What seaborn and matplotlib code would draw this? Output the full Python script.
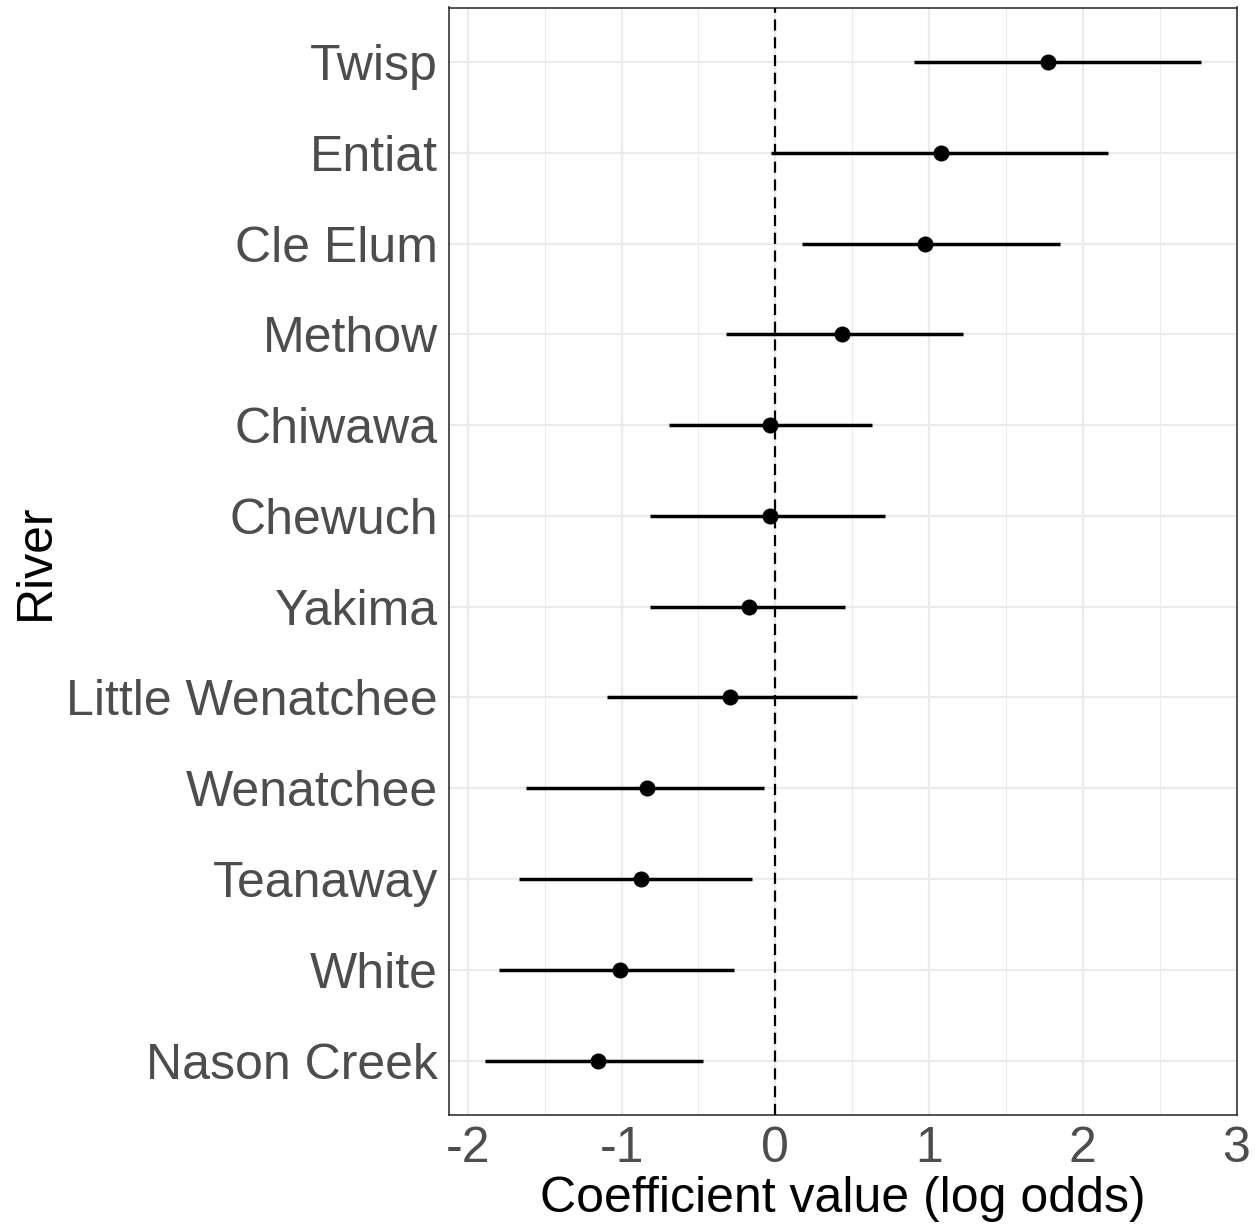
import numpy as np
import pandas as pd
import matplotlib
matplotlib.use("Agg")
import matplotlib.pyplot as plt
from matplotlib.ticker import MultipleLocator
import seaborn as sns

# River-level coefficient estimates with interval bounds (log odds)
rivers = ["Twisp", "Entiat", "Cle Elum", "Methow", "Chiwawa", "Chewuch",
          "Yakima", "Little Wenatchee", "Wenatchee", "Teanaway", "White",
          "Nason Creek"]
estimate = [1.775, 1.08, 0.975, 0.433, -0.037, -0.037,
            -0.17, -0.293, -0.834, -0.875, -1.008, -1.155]
lower = [0.90, -0.027, 0.174, -0.32, -0.695, -0.814,
         -0.814, -1.093, -1.625, -1.669, -1.798, -1.89]
upper = [2.77, 2.166, 1.853, 1.219, 0.63, 0.712,
         0.456, 0.528, -0.075, -0.153, -0.266, -0.47]
x_ticks = [-2, -1, 0, 1, 2, 3]

# Long table: each river contributes its lower bound, estimate and upper bound;
# the median recovers the estimate and the min/max span gives the interval.
df = pd.DataFrame({
    "River": rivers * 3,
    "value": lower + estimate + upper,
})

sns.set_theme(style="white")
plt.rcParams["font.family"] = ["Liberation Sans", "DejaVu Sans"]

fig = plt.figure(figsize=(12.6, 12.32), dpi=100)
ax = fig.add_axes([449 / 1260, 1 - 1115 / 1232, (1237 - 449) / 1260, (1115 - 7.5) / 1232])

sns.pointplot(
    data=df, x="value", y="River", order=rivers,
    estimator=np.median,
    errorbar=lambda v: (np.min(v), np.max(v)),
    linestyle="none", color="black", marker="o", markersize=9.5,
    err_kws={"linewidth": 2.5, "solid_capstyle": "butt"},
    ax=ax, zorder=4,
)

# Reference line at zero
ax.axvline(0, color="black", linewidth=1.6, linestyle=(0, (5, 3)), zorder=3)

# Axis ranges: continuous axis expanded 5% around the interval span
span_lo, span_hi = min(lower), max(upper)
pad = 0.05 * (span_hi - span_lo)
ax.set_xlim(span_lo - pad, span_hi + pad)
ax.set_ylim(len(rivers) - 0.4, -0.6)

ax.set_xticks(x_ticks)
ax.set_xticklabels([str(t) for t in x_ticks])
ax.xaxis.set_minor_locator(MultipleLocator(0.5))

# Grid similar to a bw theme
ax.set_axisbelow(True)
ax.grid(True, which="major", axis="both", color="#EBEBEB", linewidth=1.6)
ax.grid(True, which="minor", axis="x", color="#EBEBEB", linewidth=0.8)

for sp in ax.spines.values():
    sp.set_color("#333333")
    sp.set_linewidth(1.2)
    sp.set_visible(True)

ax.tick_params(axis="both", which="major", length=5, width=1.1, color="#333333",
               labelsize=36, labelcolor="#4D4D4D", pad=3)
ax.tick_params(axis="x", which="minor", length=0)

ax.set_xlabel("Coefficient value (log odds)", fontsize=36, color="black", labelpad=3)
ax.set_ylabel("River", fontsize=36, color="black", labelpad=5)

fig.savefig("out.png", dpi=100, facecolor="white")
